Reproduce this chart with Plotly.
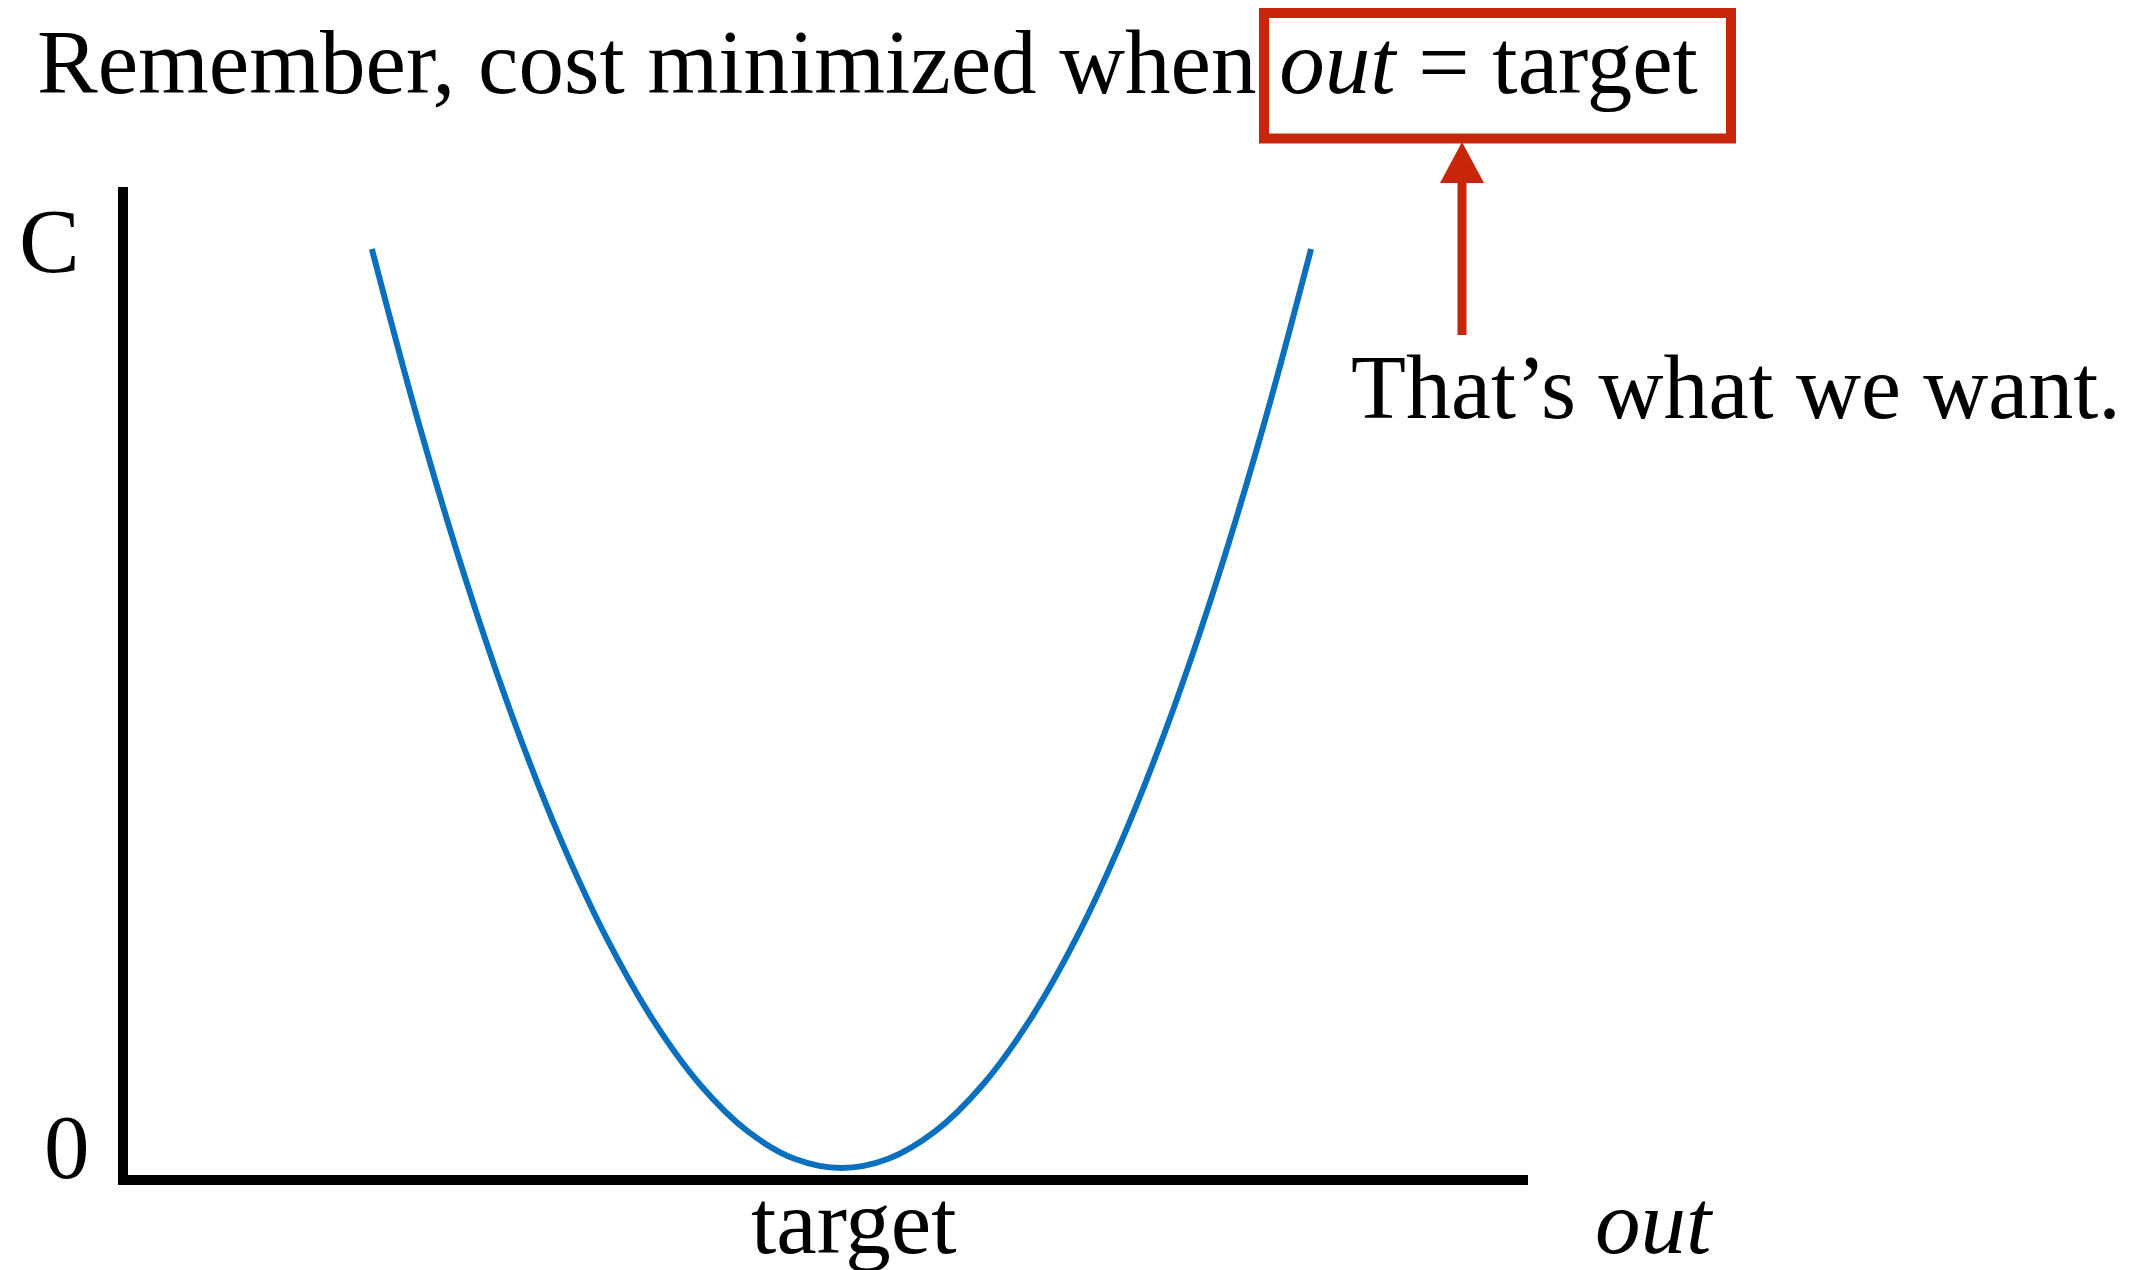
import plotly.graph_objects as go

# ---- data ----
out_vals = [-1.0, -0.9, -0.8, -0.7, -0.6, -0.5, -0.4, -0.3, -0.2, -0.1, 0.0,
            0.1, 0.2, 0.3, 0.4, 0.5, 0.6, 0.7, 0.8, 0.9, 1.0]
cost_vals = [1.0, 0.81, 0.64, 0.49, 0.36, 0.25, 0.16, 0.09, 0.04, 0.01, 0.0,
             0.01, 0.04, 0.09, 0.16, 0.25, 0.36, 0.49, 0.64, 0.81, 1.0]
y_tick_labels = ["0", "C"]
x_tick_labels = ["target"]
x_axis_title = "<i>out</i>"
title_text = "Remember, cost minimized when <i>out</i> = target"
callout_text = "That\u2019s what we want."

# ---- layout geometry (pixels, in the reference frame) ----
OFF = 8                      # page body margin of the html page
W, H = 2146 - OFF, 1270 - OFF
PL, PR, PT, PB = 123, 1528, 187, 1180   # plot area edges in reference pixels
PW, PH = PR - PL, PB - PT


def px(x):
    return (x - PL) / PW


def py(y):
    return (PB - y) / PH


FONT = "Liberation Serif, Times New Roman, serif"
FS = 91
RED = "#C8260B"
BLUE = "#0A70BE"

fig = go.Figure()
fig.add_trace(go.Scatter(
    x=out_vals, y=cost_vals, mode="lines",
    line=dict(color=BLUE, width=6, shape="spline"),
    hoverinfo="skip", showlegend=False,
))

shapes = [
    # y axis
    dict(type="line", xref="paper", yref="paper", x0=px(123), x1=px(123), y0=py(187), y1=py(1185),
         line=dict(color="black", width=10)),
    # x axis
    dict(type="line", xref="paper", yref="paper", x0=px(118), x1=px(1528), y0=py(1180), y1=py(1180),
         line=dict(color="black", width=10)),
    # red box
    dict(type="rect", xref="paper", yref="paper", x0=px(1264), x1=px(1731), y0=py(13), y1=py(138.5),
         line=dict(color=RED, width=10)),
    # arrow shaft
    dict(type="line", xref="paper", yref="paper", x0=px(1462), x1=px(1462), y0=py(335), y1=py(180),
         line=dict(color=RED, width=9)),
    # arrow head
    dict(type="path", xref="paper", yref="paper",
         path=f"M {px(1462)} {py(142)} L {px(1440)} {py(183)} L {px(1484)} {py(183)} Z",
         fillcolor=RED, line=dict(color=RED, width=0)),
]


def ann(text, x, baseline, xanchor, size=FS):
    # vertical middle of text box ~ baseline - 0.3375*size
    return dict(text=text, xref="paper", yref="paper", x=px(x), y=py(baseline - 0.3375 * size),
                xanchor=xanchor, yanchor="middle", showarrow=False,
                font=dict(family=FONT, size=size, color="black"))


annotations = [
    ann(title_text, 35, 93, "left"),
    ann(callout_text, 1349, 418, "left", 90),
    ann(y_tick_labels[1], 49, 272, "center"),
    ann(y_tick_labels[0], 67, 1178, "center"),
    ann(x_tick_labels[0], 854, 1253, "center"),
    ann(x_axis_title, 1655, 1253, "center"),
]

fig.update_layout(
    width=W, height=H,
    margin=dict(l=PL - OFF, r=W - (PR - OFF), t=PT - OFF, b=H - (PB - OFF), pad=0),
    paper_bgcolor="white", plot_bgcolor="white",
    xaxis=dict(range=[-1.53, 1.462], visible=False, fixedrange=True),
    yaxis=dict(range=[-0.0131, 1.0675], visible=False, fixedrange=True),
    shapes=shapes, annotations=annotations,
    showlegend=False,
)

fig.write_html("out.html")
